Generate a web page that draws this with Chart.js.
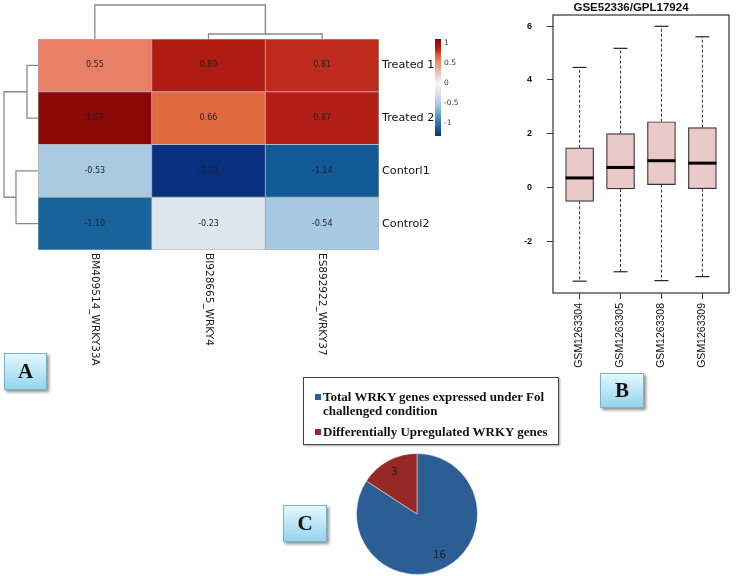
<!DOCTYPE html>
<html>
<head>
<meta charset="utf-8">
<script src="https://cdn.jsdelivr.net/npm/chart.js@4.4.1/dist/chart.umd.min.js"></script>
<style>
  body { margin: 0; background: #fff; width: 740px; height: 576px; position: relative; overflow: hidden; }
  canvas { position: absolute; }
  .tag {
    position: absolute; box-sizing: border-box;
    border: 1px solid #7ab3c8;
    background: linear-gradient(#e4f7fd, #93d5ee);
    box-shadow: 2px 2px 3px rgba(0,0,0,0.45);
    font: bold 21px "Liberation Serif", serif; color: #111;
    display: flex; align-items: center; justify-content: center;
  }
  #pieLegend {
    position: absolute; left: 303px; top: 377px; width: 256px; height: 68px;
    box-sizing: border-box; border: 1px solid #444;
    box-shadow: 1px 1px 2px rgba(0,0,0,0.35);
    padding: 12px 0 0 11px;
    font: bold 13px "Liberation Serif", serif; color: #111; line-height: 13.5px;
  }
  #pieLegend .item { display: flex; align-items: flex-start; margin-bottom: 8px; }
  #pieLegend .box { width: 6px; height: 6px; margin: 4px 2px 0 0; flex: none; }
</style>
</head>
<body>
<canvas id="heatmap" width="480" height="400" style="left:0;top:0"></canvas>
<canvas id="boxplot" width="240" height="380" style="left:500px;top:0"></canvas>
<canvas id="pie" width="122" height="122" style="left:356px;top:453px"></canvas>
<div id="pieLegend"></div>
<div class="tag" style="left:4px;top:353px;width:43px;height:37px">A</div>
<div class="tag" style="left:600px;top:373px;width:44px;height:35px">B</div>
<div class="tag" style="left:283px;top:505px;width:44px;height:37px">C</div>
<script>
// --- A: heatmap values (z-scores)
const geneLabels = ['BM409514_WRKY33A', 'BI928665_WRKY4', 'ES892922_WRKY37'];
const sampleRows = ['Treated 1', 'Treated 2', 'Contorl1', 'Control2'];
const bm409514 = [0.55, 1.09, -0.53, -1.10];
const bi928665 = [0.89, 0.66, -1.32, -0.23];
const es892922 = [0.81, 0.87, -1.14, -0.54];
const colorbarTicks = [1, 0.5, 0, -0.5, -1];

// --- B: boxplot of GSE52336/GPL17924
const boxTitle = 'GSE52336/GPL17924';
const boxSamples = ['GSM1263304', 'GSM1263305', 'GSM1263308', 'GSM1263309'];
const whiskerLow = [-3.49, -3.14, -3.47, -3.32];
const quart1 = [-0.52, -0.06, 0.10, -0.05];
const medians = [0.35, 0.74, 0.99, 0.90];
const quart3 = [1.47, 2.00, 2.44, 2.22];
const whiskerHigh = [4.46, 5.17, 5.99, 5.60];
const boxYTicks = [-2, 0, 2, 4, 6];

// --- C: pie
const pieLabels = [['Total  WRKY genes expressed under Fol', 'challenged condition'], 'Differentially Upregulated WRKY genes'];
const pieValues = [16, 3];
const pieColors = ['#2b5e94', '#962826'];

// colour ramp for the heatmap
const colorStops = [
  [-1.32, [8, 48, 127]],
  [-1.12, [19, 95, 152]],
  [-0.54, [167, 201, 225]],
  [-0.23, [220, 230, 236]],
  [0, [246, 246, 246]],
  [0.55, [233, 128, 102]],
  [0.66, [224, 106, 62]],
  [0.81, [188, 43, 27]],
  [0.89, [174, 27, 19]],
  [1.09, [139, 8, 8]]
];
function heatColor(v) {
  if (v <= colorStops[0][0]) return 'rgb(' + colorStops[0][1].join(',') + ')';
  for (let i = 1; i < colorStops.length; i++) {
    const [v1, c1] = colorStops[i];
    const [v0, c0] = colorStops[i - 1];
    if (v <= v1) {
      const t = (v - v0) / (v1 - v0);
      const c = c0.map((x, k) => Math.round(x + (c1[k] - x) * t));
      return 'rgb(' + c.join(',') + ')';
    }
  }
  return 'rgb(' + colorStops[colorStops.length - 1][1].join(',') + ')';
}

const geneData = [bm409514, bi928665, es892922];
const allVals = geneData.flat();
const vMin = Math.min(...allVals), vMax = Math.max(...allVals);

const heatExtras = {
  id: 'heatExtras',
  afterDatasetsDraw(chart) {
    const ctx = chart.ctx;
    const area = chart.chartArea;
    const yS = chart.scales.y, xS = chart.scales.x;

    // cell numbers
    ctx.save();
    ctx.font = '8px "DejaVu Sans"';
    ctx.fillStyle = '#222';
    ctx.textAlign = 'center';
    ctx.textBaseline = 'middle';
    chart.data.datasets.forEach((ds, c) => {
      chart.getDatasetMeta(c).data.forEach((el, r) => {
        const p = el.getCenterPoint();
        ctx.fillText(geneData[c][r].toFixed(2), p.x, p.y);
      });
    });

    // dendrograms
    ctx.strokeStyle = '#8a8a8a';
    ctx.lineWidth = 1.3;
    const line = (pts) => {
      ctx.beginPath();
      ctx.moveTo(pts[0][0], pts[0][1]);
      pts.slice(1).forEach(p => ctx.lineTo(p[0], p[1]));
      ctx.stroke();
    };
    const rowY = sampleRows.map((_, i) => yS.getPixelForValue(i));
    const L = area.left;
    const tX = L - 11, cX = L - 22, rX = L - 34;
    line([[L, rowY[0]], [tX, rowY[0]], [tX, rowY[1]], [L, rowY[1]]]);
    line([[L, rowY[2]], [cX, rowY[2]], [cX, rowY[3]], [L, rowY[3]]]);
    const tMid = (rowY[0] + rowY[1]) / 2, cMid = (rowY[2] + rowY[3]) / 2;
    line([[tX, tMid], [rX, tMid], [rX, cMid], [cX, cMid]]);

    const colX = geneLabels.map((_, i) => xS.getPixelForValue(i + 0.5));
    const T = area.top;
    const m23 = T - 5, root = T - 34;
    line([[colX[1], T], [colX[1], m23], [colX[2], m23], [colX[2], T]]);
    const mid23 = (colX[1] + colX[2]) / 2;
    line([[colX[0], T], [colX[0], root], [mid23, root], [mid23, m23]]);

    // column labels, reading downward
    ctx.fillStyle = '#1a1a1a';
    ctx.font = '10.5px "DejaVu Sans"';
    ctx.textAlign = 'left';
    geneLabels.forEach((g, i) => {
      ctx.save();
      ctx.translate(colX[i], area.bottom + 3);
      ctx.rotate(Math.PI / 2);
      ctx.fillText(g, 0, 0);
      ctx.restore();
    });

    // colour bar
    const bx = area.right + 56, bw = 6, bTop = area.top, bh = 97;
    const grad = ctx.createLinearGradient(0, bTop + bh, 0, bTop);
    colorStops.forEach(([v]) => grad.addColorStop((v - vMin) / (vMax - vMin), heatColor(v)));
    ctx.fillStyle = grad;
    ctx.fillRect(bx, bTop, bw, bh);
    ctx.fillStyle = '#333';
    ctx.font = '7.5px "DejaVu Sans"';
    ctx.textBaseline = 'middle';
    colorbarTicks.forEach(t => {
      const y = bTop + (vMax - t) / (vMax - vMin) * bh;
      ctx.fillText(String(t), bx + bw + 3, y);
    });
    ctx.restore();
  }
};

new Chart(document.getElementById('heatmap'), {
  type: 'bar',
  data: {
    labels: sampleRows,
    datasets: geneLabels.map((g, c) => ({
      label: g,
      data: geneData[c].map(() => [c, c + 1]),
      backgroundColor: geneData[c].map(heatColor),
      borderColor: 'rgba(150,150,150,0.75)',
      borderWidth: 0.8,
      borderSkipped: false,
      grouped: false,
      categoryPercentage: 1,
      barPercentage: 1
    }))
  },
  options: {
    indexAxis: 'y',
    responsive: false,
    animation: false,
    layout: { padding: { left: 38, top: 39, bottom: 150, right: 0 } },
    plugins: { legend: { display: false }, tooltip: { enabled: false } },
    scales: {
      x: { type: 'linear', min: 0, max: 3, display: false },
      y: {
        position: 'right',
        grid: { display: false, drawTicks: false, tickLength: 0 },
        border: { display: false },
        ticks: { padding: 3, color: '#111', font: { family: 'DejaVu Sans', size: 11.2 } },
        afterFit(s) { s.width = 101; }
      }
    }
  },
  plugins: [heatExtras]
});

// --- boxplot
const frame = {
  id: 'frame',
  afterDraw(chart) {
    const a = chart.chartArea, ctx = chart.ctx;
    ctx.save();
    ctx.strokeStyle = '#333';
    ctx.lineWidth = 1.2;
    ctx.strokeRect(a.left, a.top, a.right - a.left, a.bottom - a.top);
    ctx.fillStyle = '#111';
    ctx.font = 'bold 11.5px "Liberation Sans"';
    ctx.textAlign = 'center';
    ctx.textBaseline = 'middle';
    ctx.fillText(boxTitle, (a.left + a.right) / 2 - 10, 7.5);
    ctx.restore();
  }
};

const xPos = boxSamples.map((_, i) => i + 1);
new Chart(document.getElementById('boxplot'), {
  type: 'bar',
  data: {
    datasets: [
      {
        type: 'line', order: 0, showLine: false,
        data: xPos.map((x, i) => ({ x, y: medians[i] })),
        pointStyle: 'line', pointRadius: 14, pointBorderWidth: 3, pointBorderColor: '#000'
      },
      {
        type: 'line', order: 1, showLine: false,
        data: xPos.map((x, i) => ({ x, y: whiskerHigh[i] })).concat(xPos.map((x, i) => ({ x, y: whiskerLow[i] }))),
        pointStyle: 'line', pointRadius: 7, pointBorderWidth: 1.2, pointBorderColor: '#222'
      },
      {
        type: 'bar', order: 2,
        data: xPos.map((x, i) => ({ x, y: [quart1[i], quart3[i]] })),
        backgroundColor: '#ecc9c9', borderColor: '#333', borderWidth: 1.2,
        borderSkipped: false, barThickness: 28
      }
    ].concat(xPos.map((x, i) => ({
      type: 'line', order: 3,
      data: [{ x, y: quart3[i] }, { x, y: whiskerHigh[i] }, { x, y: null }, { x, y: quart1[i] }, { x, y: whiskerLow[i] }],
      borderColor: '#333', borderWidth: 1, borderDash: [3, 2], pointRadius: 0, spanGaps: false
    })))
  },
  options: {
    responsive: false,
    animation: false,
    layout: { autoPadding: false, padding: { left: 19, right: 11, top: 15, bottom: 7 } },
    plugins: { legend: { display: false }, tooltip: { enabled: false } },
    scales: {
      x: {
        type: 'linear', min: 0.35, max: 4.65, offset: false,
        afterBuildTicks(s) { s.ticks = xPos.map(v => ({ value: v })); },
        grid: { drawOnChartArea: false, offset: false, tickLength: 6, color: '#333' },
        border: { display: false },
        ticks: {
          minRotation: 90, maxRotation: 90, padding: 4, color: '#111',
          font: { family: 'Liberation Sans', size: 10.5 },
          callback: (v) => boxSamples[v - 1]
        },
        afterFit(s) { s.height = 80; s.paddingLeft = 0; s.paddingRight = 0; }
      },
      y: {
        min: -3.93, max: 6.41,
        afterBuildTicks(s) { s.ticks = boxYTicks.map(v => ({ value: v })); },
        grid: { drawOnChartArea: false, tickLength: 6, color: '#333' },
        border: { display: false },
        ticks: { padding: 15, color: '#111', font: { family: 'Liberation Sans', size: 9, weight: 'bold' } },
        afterFit(s) { s.width = 34; s.paddingTop = 0; s.paddingBottom = 0; }
      }
    }
  },
  plugins: [frame]
});

// --- pie
const pieNumbers = {
  id: 'pieNumbers',
  afterDatasetsDraw(chart) {
    const ctx = chart.ctx;
    ctx.save();
    ctx.font = '10px "DejaVu Sans"';
    ctx.fillStyle = '#1b1b1b';
    ctx.textAlign = 'center';
    ctx.textBaseline = 'middle';
    chart.getDatasetMeta(0).data.forEach((arc, i) => {
      const mid = (arc.startAngle + arc.endAngle) / 2;
      const r = arc.outerRadius * 0.78;
      ctx.fillText(String(pieValues[i]), arc.x + Math.cos(mid) * r, arc.y + Math.sin(mid) * r);
    });
    ctx.restore();
  }
};
const htmlLegend = {
  id: 'htmlLegend',
  afterUpdate(chart) {
    const box = document.getElementById('pieLegend');
    box.innerHTML = '';
    const items = chart.options.plugins.legend.labels.generateLabels(chart);
    items.forEach(it => {
      const row = document.createElement('div');
      row.className = 'item';
      const sw = document.createElement('span');
      sw.className = 'box';
      sw.style.background = it.fillStyle;
      const tx = document.createElement('span');
      tx.innerHTML = [].concat(it.text).join('<br>');
      row.appendChild(sw);
      row.appendChild(tx);
      box.appendChild(row);
    });
  }
};
new Chart(document.getElementById('pie'), {
  type: 'pie',
  data: {
    labels: pieLabels,
    datasets: [{
      data: pieValues,
      backgroundColor: pieColors,
      borderColor: 'rgba(255,255,255,0.45)',
      borderWidth: 1
    }]
  },
  options: {
    responsive: false,
    animation: false,
    plugins: { legend: { display: false }, tooltip: { enabled: false } }
  },
  plugins: [pieNumbers, htmlLegend]
});
</script>
</body>
</html>
